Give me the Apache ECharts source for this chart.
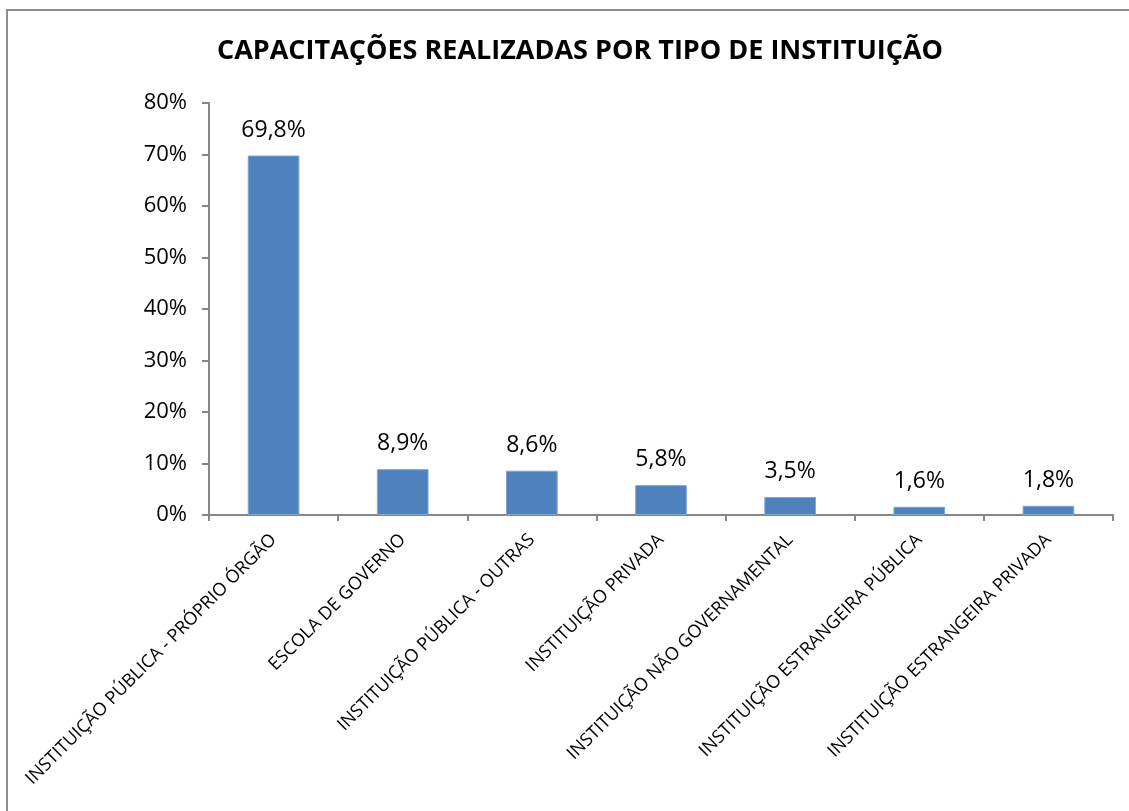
<!DOCTYPE html>
<html>
	<head>
		<meta charset="UTF-8">
		<title>Capacitações</title>
		<script src="https://cdn.jsdelivr.net/npm/echarts@6/dist/echarts.min.js"></script>
		<style type="text/css">
			html, body { margin: 0; padding: 0; background: #fff; }
			#main { width: 1129px; height: 811px; }
		</style>
	</head>
	<body>
		<div id="main"></div>
		<script type="text/javascript">
			// dados do gráfico
			var categorias = [
				'INSTITUIÇÃO PÚBLICA - PRÓPRIO ÓRGÃO',
				'ESCOLA DE GOVERNO',
				'INSTITUIÇÃO PÚBLICA - OUTRAS',
				'INSTITUIÇÃO PRIVADA',
				'INSTITUIÇÃO NÃO GOVERNAMENTAL',
				'INSTITUIÇÃO ESTRANGEIRA PÚBLICA',
				'INSTITUIÇÃO ESTRANGEIRA PRIVADA'
			];
			var percentuais = [69.8, 8.9, 8.6, 5.8, 3.5, 1.6, 1.8];
			var eixoMin = 0, eixoMax = 80, eixoPasso = 10;

			var fonte = '"Open Sans", "Noto Sans", sans-serif';
			var cinza = '#868686';

			var myChart = echarts.init(document.getElementById('main'));

			var option = {
				animation: false,
				textStyle: { fontFamily: fonte },
				title: {
					text: 'CAPACITAÇÕES REALIZADAS POR TIPO DE INSTITUIÇÃO',
					left: 575,
					textAlign: 'center',
					top: 33,
					textStyle: { fontSize: 27, fontWeight: 'bold', color: '#000', fontFamily: fonte }
				},
				graphic: [{
					type: 'rect',
					shape: { x: 7, y: 10, width: 1140, height: 830 },
					style: { fill: 'none', stroke: '#8c8c8c', lineWidth: 2 },
					z: -1
				}],
				grid: { left: 209, right: 16, top: 103, bottom: 296 },
				xAxis: {
					type: 'category',
					data: categorias,
					axisLine: { lineStyle: { color: cinza, width: 2 } },
					axisTick: { show: true, length: 6, alignWithLabel: false, lineStyle: { color: cinza, width: 2 } },
					axisLabel: {
						rotate: 45,
						interval: 0,
						margin: 22,
						color: '#000',
						fontSize: 18,
						fontFamily: fonte
					}
				},
				yAxis: {
					type: 'value',
					min: eixoMin,
					max: eixoMax,
					interval: eixoPasso,
					splitLine: { show: false },
					axisLine: { show: true, lineStyle: { color: cinza, width: 2 } },
					axisTick: { show: true, length: 7, lineStyle: { color: cinza, width: 2 } },
					axisLabel: {
						color: '#000',
						fontSize: 22,
						margin: 22,
						fontFamily: fonte,
						formatter: function (v) { return v + '%'; }
					}
				},
				series: [{
					type: 'bar',
					data: percentuais,
					barWidth: '40%',
					itemStyle: { color: '#4f81bd', borderColor: '#7fa6d6', borderWidth: 1 },
					label: {
						show: true,
						position: 'top',
						distance: 14,
						color: '#000',
						fontSize: 23,
						fontFamily: fonte,
						formatter: function (p) { return String(p.value).replace('.', ',') + '%'; }
					}
				}]
			};

			myChart.setOption(option);
		</script>
	</body>
</html>
